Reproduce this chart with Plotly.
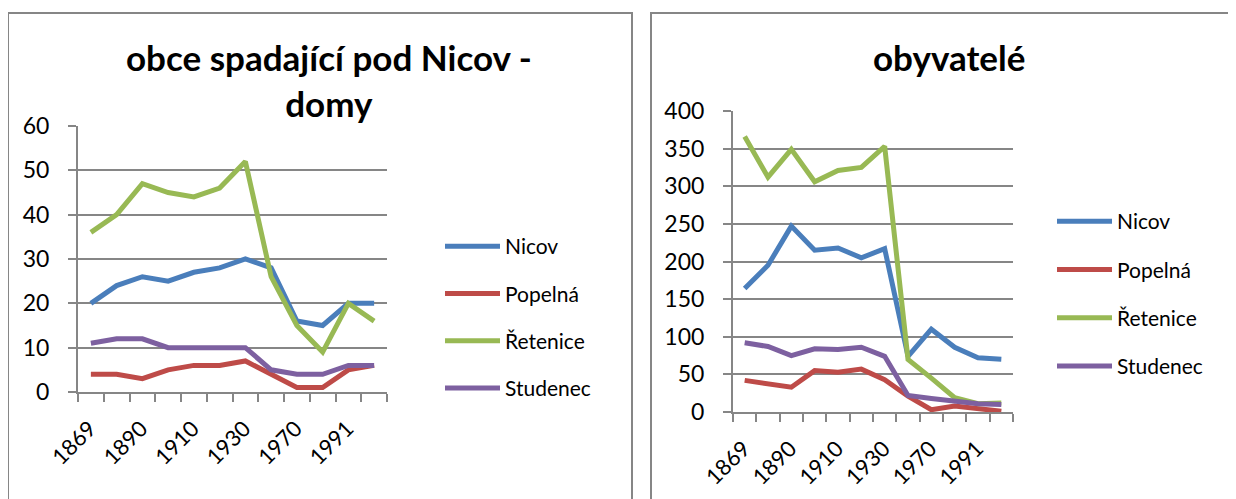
import plotly.graph_objects as go

YEARS = ["1869", "1880", "1890", "1900", "1910", "1921", "1930", "1950", "1970", "1980", "1991", "2001"]
TICK_TEXT = ["1869", "", "1890", "", "1910", "", "1930", "", "1970", "", "1991", ""]
SERIES = ["Nicov", "Popelná", "Řetenice", "Studenec"]
COLORS = ["#4a7ebb", "#be4b48", "#98b954", "#7d60a0"]

# domy (houses)
domy_nicov = [20, 24, 26, 25, 27, 28, 30, 28, 16, 15, 20, 20]
domy_popelna = [4, 4, 3, 5, 6, 6, 7, 4, 1, 1, 5, 6]
domy_retenice = [36, 40, 47, 45, 44, 46, 52, 26, 15, 9, 20, 16]
domy_studenec = [11, 12, 12, 10, 10, 10, 10, 5, 4, 4, 6, 6]

# obyvatelé (inhabitants)
obyv_nicov = [164, 195, 247, 215, 218, 205, 217, 74, 110, 86, 72, 70]
obyv_popelna = [42, 38, 33, 55, 53, 57, 43, 21, 3, 8, 5, 1]
obyv_retenice = [366, 312, 349, 306, 321, 325, 353, 70, 45, 19, 11, 12]
obyv_studenec = [92, 87, 75, 84, 83, 86, 74, 22, 18, 15, 11, 10]

# page body has an 8px margin, so the figure is a bit smaller than the window
OFF = 8
W, H = 1236 - OFF, 499 - OFF
FONT = "Lato, 'Open Sans', sans-serif"
GRID = "#868686"


def px(x):
    return (x - OFF) / W


def py(y):
    return 1 - (y - OFF) / H


fig = go.Figure()

for name, color, ys in zip(SERIES, COLORS, [domy_nicov, domy_popelna, domy_retenice, domy_studenec]):
    fig.add_trace(go.Scatter(
        x=YEARS, y=ys, name=name, mode="lines", legend="legend",
        line=dict(color=color, width=5), xaxis="x", yaxis="y",
        legendgroup="l" + name,
    ))
for name, color, ys in zip(SERIES, COLORS, [obyv_nicov, obyv_popelna, obyv_retenice, obyv_studenec]):
    fig.add_trace(go.Scatter(
        x=YEARS, y=ys, name=name, mode="lines", legend="legend2",
        line=dict(color=color, width=5), xaxis="x2", yaxis="y2",
        legendgroup="r" + name,
    ))

xcommon = dict(
    type="category", tickson="boundaries", ticks="outside", ticklen=8, tickwidth=2,
    tickcolor=GRID, showline=True, linecolor=GRID, linewidth=2, showgrid=False,
    tickvals=YEARS, ticktext=TICK_TEXT, tickangle=-45, automargin=False,
    tickfont=dict(size=22, color="#000000", family=FONT), range=[-0.5, 11.5],
    zeroline=False, ticklabelshift=-1, ticklabelstandoff=13,
)
ycommon = dict(
    ticks="outside", ticklen=8, tickwidth=2, tickcolor=GRID, showline=True,
    linecolor=GRID, linewidth=2, showgrid=True, gridcolor=GRID, gridwidth=2,
    tickfont=dict(size=23, color="#000000", family=FONT), zeroline=False,
    automargin=False, ticklabelstandoff=14,
)

legcommon = dict(
    font=dict(size=21, family=FONT, color="#000000"), bgcolor="rgba(0,0,0,0)",
    itemwidth=55, xanchor="left", yanchor="top",
)

fig.update_layout(
    template="none",
    width=W, height=H,
    margin=dict(l=0, r=0, t=0, b=0, pad=0, autoexpand=False),
    paper_bgcolor="white", plot_bgcolor="white",
    font=dict(family=FONT),
    xaxis=dict(xcommon, domain=[px(78), px(387)], anchor="y"),
    yaxis=dict(ycommon, domain=[py(392), py(126)], range=[0, 60], dtick=10, anchor="x"),
    xaxis2=dict(xcommon, domain=[px(733), px(1013)], anchor="y2"),
    yaxis2=dict(ycommon, domain=[py(412), py(111)], range=[0, 400], dtick=50, anchor="x2"),
    legend=dict(legcommon, x=px(440), y=py(226), tracegroupgap=17),
    legend2=dict(legcommon, x=px(1052), y=py(201), tracegroupgap=18),
    showlegend=True,
    annotations=[
        dict(text="<b>obce spadající pod Nicov -<br>domy</b>", x=px(329), y=py(80),
             xref="paper", yref="paper", xanchor="center", yanchor="middle", showarrow=False,
             font=dict(size=35, family=FONT, color="#000000")),
        dict(text="<b>obyvatelé</b>", x=px(949), y=py(57),
             xref="paper", yref="paper", xanchor="center", yanchor="middle", showarrow=False,
             font=dict(size=35, family=FONT, color="#000000")),
    ],
    shapes=[
        dict(type="rect", xref="paper", yref="paper", x0=px(8), x1=px(632), y0=-0.05, y1=py(13),
             line=dict(color=GRID, width=2)),
        dict(type="rect", xref="paper", yref="paper", x0=px(651), x1=1.05, y0=-0.05, y1=py(13),
             line=dict(color=GRID, width=2)),
    ],
)

fig.write_html("out.html")
